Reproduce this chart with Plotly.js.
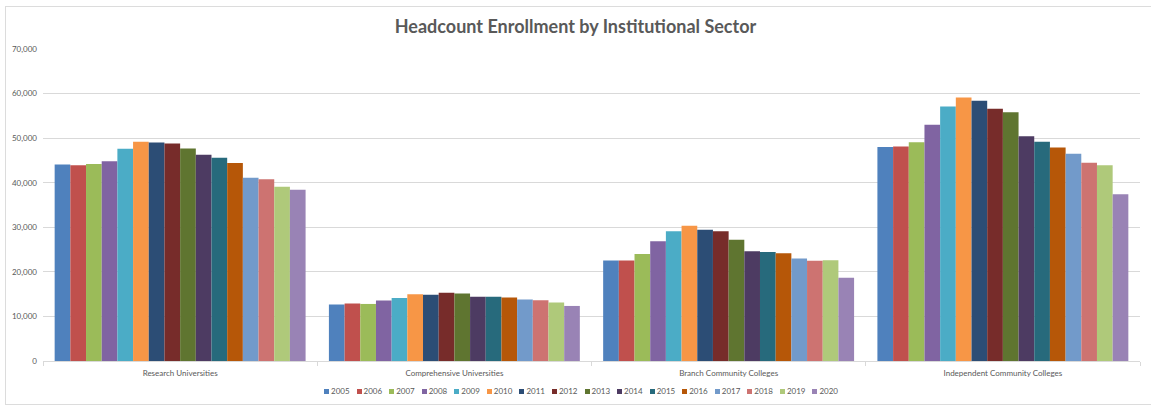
<!DOCTYPE html>
<html>
<head>
<meta charset="utf-8">
<script src="https://cdn.plot.ly/plotly-3.0.1.min.js"></script>
<style>
html,body{margin:0;padding:0;background:#fff;}
#wrap{position:relative;width:1151px;height:405px;}
#chart{width:1151px;height:405px;}
#frame{position:absolute;left:5px;top:6px;width:1150px;height:397px;border-left:1px solid #dcdcdc;border-top:1px solid #dcdcdc;border-bottom:1px solid #dcdcdc;pointer-events:none;}
#legend{position:absolute;left:0;top:386px;width:1162px;display:flex;justify-content:center;align-items:center;font-family:Lato,'Open Sans','Liberation Sans',sans-serif;font-size:8px;color:#595959;}
#legend .item{display:flex;align-items:center;margin:0 3.5px;}
#legend .sw{width:5px;height:5px;margin-right:2px;display:inline-block;}
</style>
</head>
<body>
<div id="wrap"><div id="chart"></div><div id="legend"></div><div id="frame"></div></div>
<script>
const sectors = ["Research Universities", "Comprehensive Universities", "Branch Community Colleges", "Independent Community Colleges"];
const years = ["2005","2006","2007","2008","2009","2010","2011","2012","2013","2014","2015","2016","2017","2018","2019","2020"];
const yearColors = ["#4F81BD","#C0504D","#9BBB59","#8064A2","#4BACC6","#F79646","#2C4D75","#772C2A","#5F7530","#4D3B62","#276A7C","#B65708","#729ACA","#CD7371","#AFC97A","#9983B5"];

const researchUniversities   = [44100, 43900, 44200, 44800, 47600, 49200, 49000, 48800, 47700, 46300, 45600, 44400, 41100, 40800, 39100, 38400];
const comprehensiveUniversities = [12650, 12900, 12800, 13550, 14150, 15000, 14850, 15300, 15150, 14400, 14400, 14250, 13800, 13650, 13100, 12350];
const branchCommunityColleges = [22550, 22550, 24000, 26850, 29100, 30350, 29450, 29100, 27200, 24650, 24450, 24200, 23000, 22500, 22600, 18650];
const independentCommunityColleges = [48000, 48100, 49100, 53000, 57100, 59100, 58400, 56600, 55800, 50400, 49200, 47900, 46500, 44500, 43900, 37400];

const bySector = [researchUniversities, comprehensiveUniversities, branchCommunityColleges, independentCommunityColleges];

const traces = years.map((yr, i) => ({
  type: "bar",
  name: yr,
  x: sectors,
  y: bySector.map(s => s[i]),
  marker: {color: yearColors[i], line: {width: 0}},
  hovertemplate: "%{x}<br>" + yr + ": %{y:,}<extra></extra>"
}));

const font = "Lato, 'Open Sans', 'Liberation Sans', sans-serif";

const layout = {
  width: 1151,
  height: 405,
  margin: {l: 43, r: 11, t: 49, b: 44, pad: 0},
  paper_bgcolor: "#ffffff",
  plot_bgcolor: "#ffffff",
  font: {family: font, size: 8, color: "#595959"},
  title: {
    text: "<b>Headcount Enrollment by Institutional Sector</b>",
    font: {family: font, size: 18, color: "#595959"},
    x: 0.5, xanchor: "center",
    y: 1 - 27/405, yanchor: "middle", yref: "container"
  },
  barmode: "group",
  bargap: 0.085,
  bargroupgap: 0,
  xaxis: {
    type: "category",
    showline: true, linecolor: "#d9d9d9", linewidth: 1,
    ticks: "outside", tickson: "boundaries", ticklen: 4, tickcolor: "#d9d9d9",
    ticklabelstandoff: 4,
    showgrid: false,
    tickfont: {family: font, size: 8, color: "#595959"}
  },
  yaxis: {
    range: [0, 70000],
    dtick: 10000,
    tickformat: ",",
    showgrid: true, gridcolor: "#d9d9d9", gridwidth: 1,
    zeroline: false, showline: false, ticks: "",
    ticklabelstandoff: 5,
    tickfont: {family: font, size: 8, color: "#595959"}
  },
  showlegend: false
};

Plotly.newPlot("chart", traces, layout, {displayModeBar: false, staticPlot: true});

// Legend built from the same year/colour arrays
const legendEl = document.getElementById("legend");
years.forEach((yr, i) => {
  const item = document.createElement("span");
  item.className = "item";
  const sw = document.createElement("span");
  sw.className = "sw";
  sw.style.background = yearColors[i];
  const tx = document.createElement("span");
  tx.textContent = yr;
  item.appendChild(sw);
  item.appendChild(tx);
  legendEl.appendChild(item);
});
</script>
</body>
</html>
